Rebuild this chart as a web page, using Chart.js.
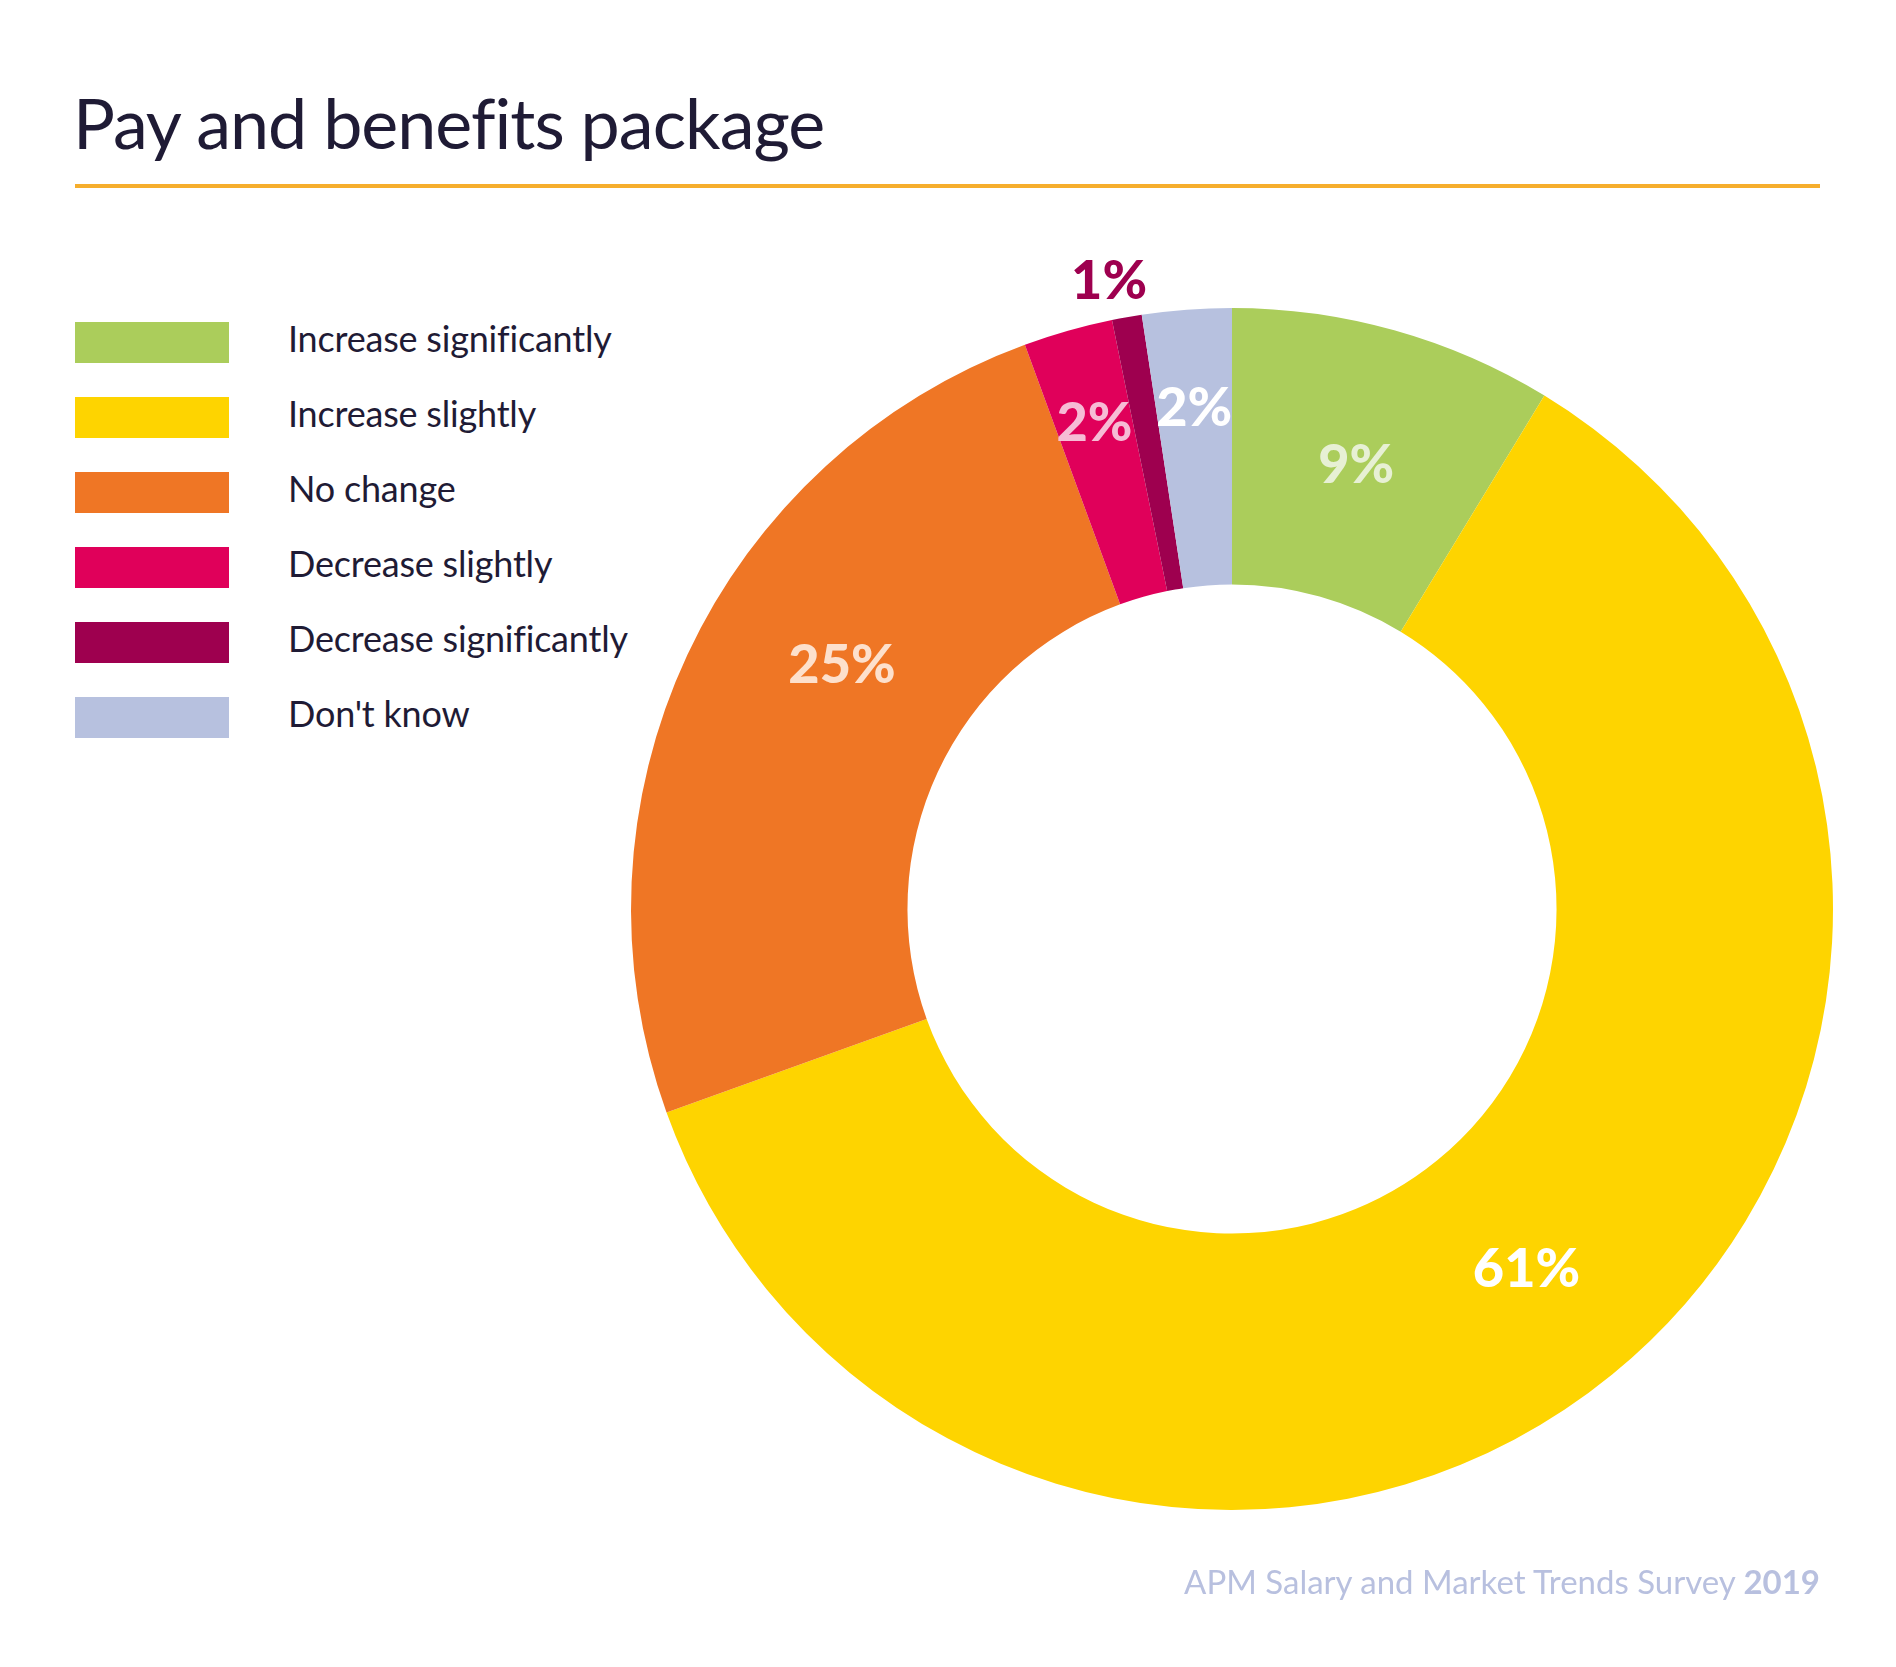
<!DOCTYPE html>
<html>
<head>
<meta charset="utf-8">
<script src="https://cdn.jsdelivr.net/npm/chart.js@4/dist/chart.umd.min.js"></script>
<style>
  html, body { margin: 0; padding: 0; background: #fff; }
  body { width: 1896px; height: 1667px; position: relative; overflow: hidden; font-family: Lato, "Open Sans", sans-serif; color: #1f1b35; }
  #title { position: absolute; left: 73px; top: 80px; font-size: 70px; font-weight: 400; letter-spacing: -1px; color: #1f1b35; white-space: nowrap; }
  #rule { position: absolute; left: 75px; top: 184px; width: 1745px; height: 4px; background: #f6ae2d; }
  #legend { position: absolute; left: 75px; top: 322px; }
  .item { position: absolute; left: 0; height: 41px; width: 700px; }
  .sw { position: absolute; left: 0; top: 0; width: 154px; height: 41px; }
  .lt { position: absolute; left: 213px; top: 50%; transform: translateY(-61%); font-size: 36px; white-space: nowrap; color: #1f1b35; letter-spacing: -0.2px; }
  #chartBox { position: absolute; left: 532px; top: 209px; width: 1400px; height: 1400px; }
  #footer { position: absolute; right: 76px; top: 1561px; font-size: 33px; color: #b8c0df; white-space: nowrap; }
  #footer b { font-weight: 700; }
</style>
</head>
<body>
<div id="title">Pay and benefits package</div>
<div id="rule"></div>
<div id="legend"></div>
<div id="chartBox"><canvas id="c"></canvas></div>
<div id="footer">APM Salary and Market Trends Survey <b>2019</b></div>
<script>
const categories = ["Increase significantly", "Increase slightly", "No change", "Decrease slightly", "Decrease significantly", "Don't know"];
const shares = [8.7, 60.8, 24.9, 2.4, 0.8, 2.4];
const sliceColors = ["#abcd5b", "#fed400", "#ef7625", "#e0005a", "#9e004f", "#b7c1df"];
const labelColors = ["#e7f0d4", "#ffffff", "#fde0cc", "#f6bcd5", "#9e004f", "#ffffff"];

// HTML legend built from the arrays
const legendEl = document.getElementById('legend');
categories.forEach((name, i) => {
  const it = document.createElement('div');
  it.className = 'item';
  it.style.top = (i * 75) + 'px';
  const sw = document.createElement('div');
  sw.className = 'sw';
  sw.style.background = sliceColors[i];
  const t = document.createElement('div');
  t.className = 'lt';
  t.textContent = name;
  it.appendChild(sw); it.appendChild(t);
  legendEl.appendChild(it);
});

// label placement (style only): radial fraction across ring and angle offset in degrees
const labelPlugin = {
  id: 'sliceLabels',
  afterDatasetsDraw(chart, args, opts) {
    const ctx = chart.ctx;
    const meta = chart.getDatasetMeta(0);
    const data = chart.data.datasets[0].data;
    ctx.save();
    ctx.font = '900 54px Lato, "Open Sans", sans-serif';
    ctx.textAlign = 'center';
    ctx.textBaseline = 'middle';
    meta.data.forEach((arc, i) => {
      const p = arc.getProps(['x', 'y', 'startAngle', 'endAngle', 'innerRadius', 'outerRadius'], true);
      const mid = (p.startAngle + p.endAngle) / 2 + (opts.angleOffset[i] || 0) * Math.PI / 180;
      const r = p.innerRadius + (p.outerRadius - p.innerRadius) * opts.radial[i];
      const x = p.x + Math.cos(mid) * r;
      const y = p.y + Math.sin(mid) * r;
      ctx.fillStyle = labelColors[i];
      ctx.fillText(Math.round(data[i]) + '%', x, y);
    });
    ctx.restore();
  }
};

new Chart(document.getElementById('c'), {
  type: 'doughnut',
  data: {
    labels: categories,
    datasets: [{
      data: shares,
      backgroundColor: sliceColors,
      borderWidth: 0,
      hoverOffset: 0
    }]
  },
  options: {
    responsive: true,
    maintainAspectRatio: false,
    animation: false,
    cutout: '54%',
    layout: { padding: 99 },
    plugins: {
      legend: { display: false },
      tooltip: { enabled: false },
      sliceLabels: {
        radial: [0.49, 0.51, 0.49, 0.65, 1.14, 0.64],
        angleOffset: [0, 0, 7, 0, -1, 0]
      }
    }
  },
  plugins: [labelPlugin]
});
</script>
</body>
</html>
